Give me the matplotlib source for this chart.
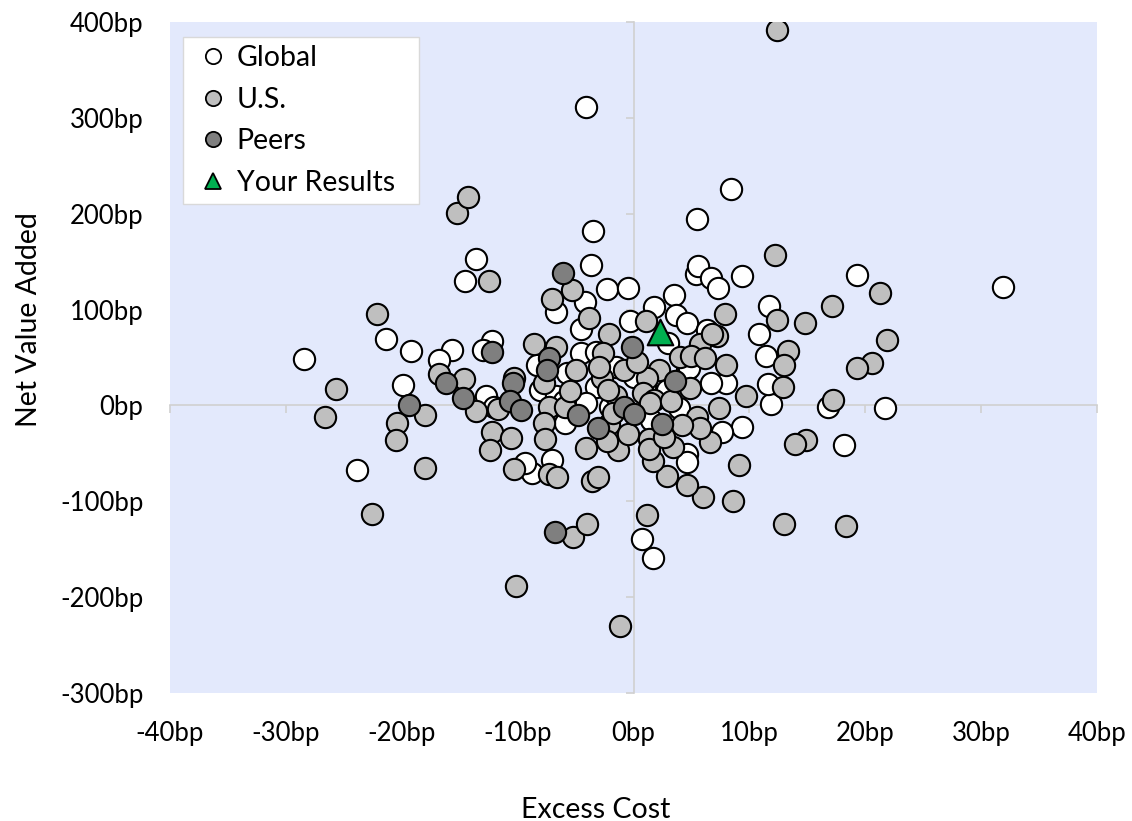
import matplotlib
matplotlib.use("Agg")
import matplotlib.pyplot as plt
from matplotlib.lines import Line2D

plt.rcParams['font.family'] = ['Lato', 'DejaVu Sans']

# excess cost (bp), net value added (bp)
global_x = [-28.4, -23.9, -21.4, -19.2, -19.9, -15.7, -16.8, -14.5, -13.6, -3.7,
            -6.7, -4.2, -2.3, -0.5, -4.5, -0.3, 1.8, -12.2, -13.0, -12.7,
            -12.0, -8.3, -8.1, -5.7, -4.5, -3.2, -3.2, -4.1, -5.9, -8.8,
            -7.0, 0.7, 1.7, -9.4, 9.4, 11.9, 7.6, 4.6, 4.6, 3.9,
            8.0, 11.6, 5.4, 5.6, 6.7, 7.3, 9.4, 3.5, 3.7, 4.6,
            6.3, 11.7, 10.8, 11.4, 2.9, 19.3, 16.8, 21.7, 18.2, -4.1,
            8.4, 5.5, -3.5, 31.9, 4.6, -6.7, 6.7, 4.8, -1.5, 1.0,
            -2.0, 1.5, -6.0, 0.0, 3.0]
global_y = [48, -67, 69, 57, 21, 58, 47, 130, 153, 146,
            97, 108, 121, 123, 80, 88, 103, 67, 58, 10,
            -2, 42, 16, 34, 55, 56, 19, 3, -18, -71,
            -57, -139, -159, -60, -23, 2, -28, -51, -59, -3,
            23, 22, 137, 145, 133, 122, 135, 115, 94, 86,
            79, 104, 75, 52, 16, 136, -2, -3, -41, 311,
            226, 194, 182, 124, 37, 10, 23, 39, 40, 20,
            -2, -15, 5, 30, 65]

us_x = [-22.1, -25.7, -26.6, -18.0, -20.4, -20.5, -18.0, -16.8, -15.2, -14.3,
        -12.5, -5.3, -7.0, -3.8, -2.1, 1.1, -14.6, -13.6, -11.7, -10.3,
        -12.2, -10.6, -12.4, -8.6, -6.7, -7.7, -5.0, -2.6, -2.7, -0.8,
        -1.5, -7.3, -5.9, -7.7, -7.6, -4.1, -1.3, -2.1, -10.3, -7.3,
        -6.6, -3.6, -3.1, -5.2, -4.0, -10.1, -1.2, 1.2, 9.1, 8.6,
        13.0, 14.9, 13.9, 9.7, 12.9, 7.4, 6.6, 5.5, 6.0, 4.6,
        2.9, 1.7, 3.4, 1.3, 1.3, 4.9, 12.2, 7.2, 7.9, 12.4,
        14.8, 13.3, 13.0, 8.0, 5.7, 4.0, 5.0, 6.2, 2.2, 1.2,
        0.8, 1.8, -2.2, 1.4, 5.7, 6.8, 21.3, 17.1, 21.9, 20.6,
        19.3, 17.2, 18.3, 12.4, -22.6, -2.3, -3.0, 0.3, -1.8, 3.2,
        -5.5, 2.6, -0.5, 4.2]
us_y = [95, 17, -12, -10, -18, -36, -65, 33, 201, 217,
        130, 120, 111, 91, 74, 88, 28, -6, -4, 29,
        -28, -34, -47, 64, 61, 23, 37, 55, 29, 37,
        10, -2, -2, -18, -35, -44, -47, -19, -66, -72,
        -75, -79, -75, -137, -124, -188, -230, -114, -62, -100,
        -124, -36, -40, 10, 19, -3, -38, -12, -96, -83,
        -74, -58, -43, -35, -45, 18, 157, 72, 95, 89,
        86, 57, 42, 42, 64, 50, 52, 49, 37, 29,
        13, 6, 16, 3, -24, 75, 117, 104, 68, 44,
        39, 6, -126, 392, -113, -37, 40, 45, -8, 5,
        15, -33, -30, -20]

peers_x = [-19.4, -16.2, -12.2, -14.7, -10.4, -10.7, -9.7, -6.1, -7.3, -7.5,
           -0.1, -0.8, 0.0, -4.8, -3.1, -6.8, 2.5, 3.6]
peers_y = [0, 23, 56, 8, 23, 5, -5, 138, 49, 37,
           61, -2, -9, -10, -24, -132, -19, 26]

yours_x = [2.3]
yours_y = [77]

xticks = list(range(-40, 41, 10))
yticks = list(range(-300, 401, 100))

W, H = 1132, 821
fig = plt.figure(figsize=(W / 100, H / 100), dpi=100)
pos = [170 / W, 1 - 693 / H, (1097 - 170) / W, (693 - 22) / H]

# background axes carries the fill and the zero axis lines
ax_bg = fig.add_axes(pos)
ax_bg.set_facecolor('#E3E9FC')
ax_bg.set_xlim(-40, 40)
ax_bg.set_ylim(-300, 400)
ax_bg.spines['left'].set_position(('data', 0))
ax_bg.spines['bottom'].set_position(('data', 0))
for s in ['top', 'right']:
    ax_bg.spines[s].set_visible(False)
for s in ['left', 'bottom']:
    ax_bg.spines[s].set_color('#D0D0D0')
    ax_bg.spines[s].set_linewidth(1.2)
ax_bg.set_xticks(xticks)
ax_bg.set_yticks(yticks)
ax_bg.tick_params(direction='out', length=6, width=1.2, color='#D0D0D0',
                  labelleft=False, labelbottom=False)

ax = fig.add_axes(pos)
ax.set_facecolor('none')
for s in ax.spines.values():
    s.set_visible(False)
ax.set_xlim(-40, 40)
ax.set_ylim(-300, 400)
ax.set_xticks(xticks)
ax.set_yticks(yticks)
ax.set_xticklabels([f'{v}bp' for v in xticks])
ax.set_yticklabels([f'{v}bp' for v in yticks])
ax.tick_params(axis='x', length=0, pad=20, labelsize=18.5)
ax.tick_params(axis='y', length=0, pad=19, labelsize=18.5)

msize = 235
ax.scatter(global_x, global_y, s=msize, c='white', edgecolors='black', linewidths=1.5, zorder=3)
ax.scatter(us_x, us_y, s=msize, c='#BFBFBF', edgecolors='black', linewidths=1.5, zorder=4)
ax.scatter(peers_x, peers_y, s=msize, c='#7F7F7F', edgecolors='black', linewidths=1.5, zorder=5)
ax.scatter(yours_x, yours_y, s=340, marker='^', c='#00B050', edgecolors='black', linewidths=1.5, zorder=6)

fig.text(596 / W, 1 - 818 / H, 'Excess Cost', ha='center', va='baseline', fontsize=20.5)
fig.text(37 / W, 1 - 320 / H, 'Net Value Added', ha='center', va='baseline',
         rotation=90, rotation_mode='anchor', fontsize=20.5)

handles = [
    Line2D([], [], ls='none', marker='o', ms=11, mfc='white', mec='black', mew=1.3, label='Global'),
    Line2D([], [], ls='none', marker='o', ms=11, mfc='#BFBFBF', mec='black', mew=1.3, label='U.S.'),
    Line2D([], [], ls='none', marker='o', ms=11, mfc='#7F7F7F', mec='black', mew=1.3, label='Peers'),
    Line2D([], [], ls='none', marker='^', ms=12, mfc='#00B050', mec='black', mew=1.3, label='Your Results'),
]
leg = ax.legend(handles=handles, loc='upper left',
                bbox_to_anchor=(183 / W, 1 - 208 / H, 236 / W, 171 / H),
                bbox_transform=fig.transFigure, mode='expand', borderaxespad=0,
                fontsize=20.5, frameon=True, fancybox=False, framealpha=1,
                edgecolor='#D9D9D9', borderpad=0.28, labelspacing=0.55,
                handlelength=1.55, handletextpad=0.05)
leg.get_frame().set_linewidth(1.0)
leg.set_zorder(10)

fig.savefig('out.png', dpi=100)
